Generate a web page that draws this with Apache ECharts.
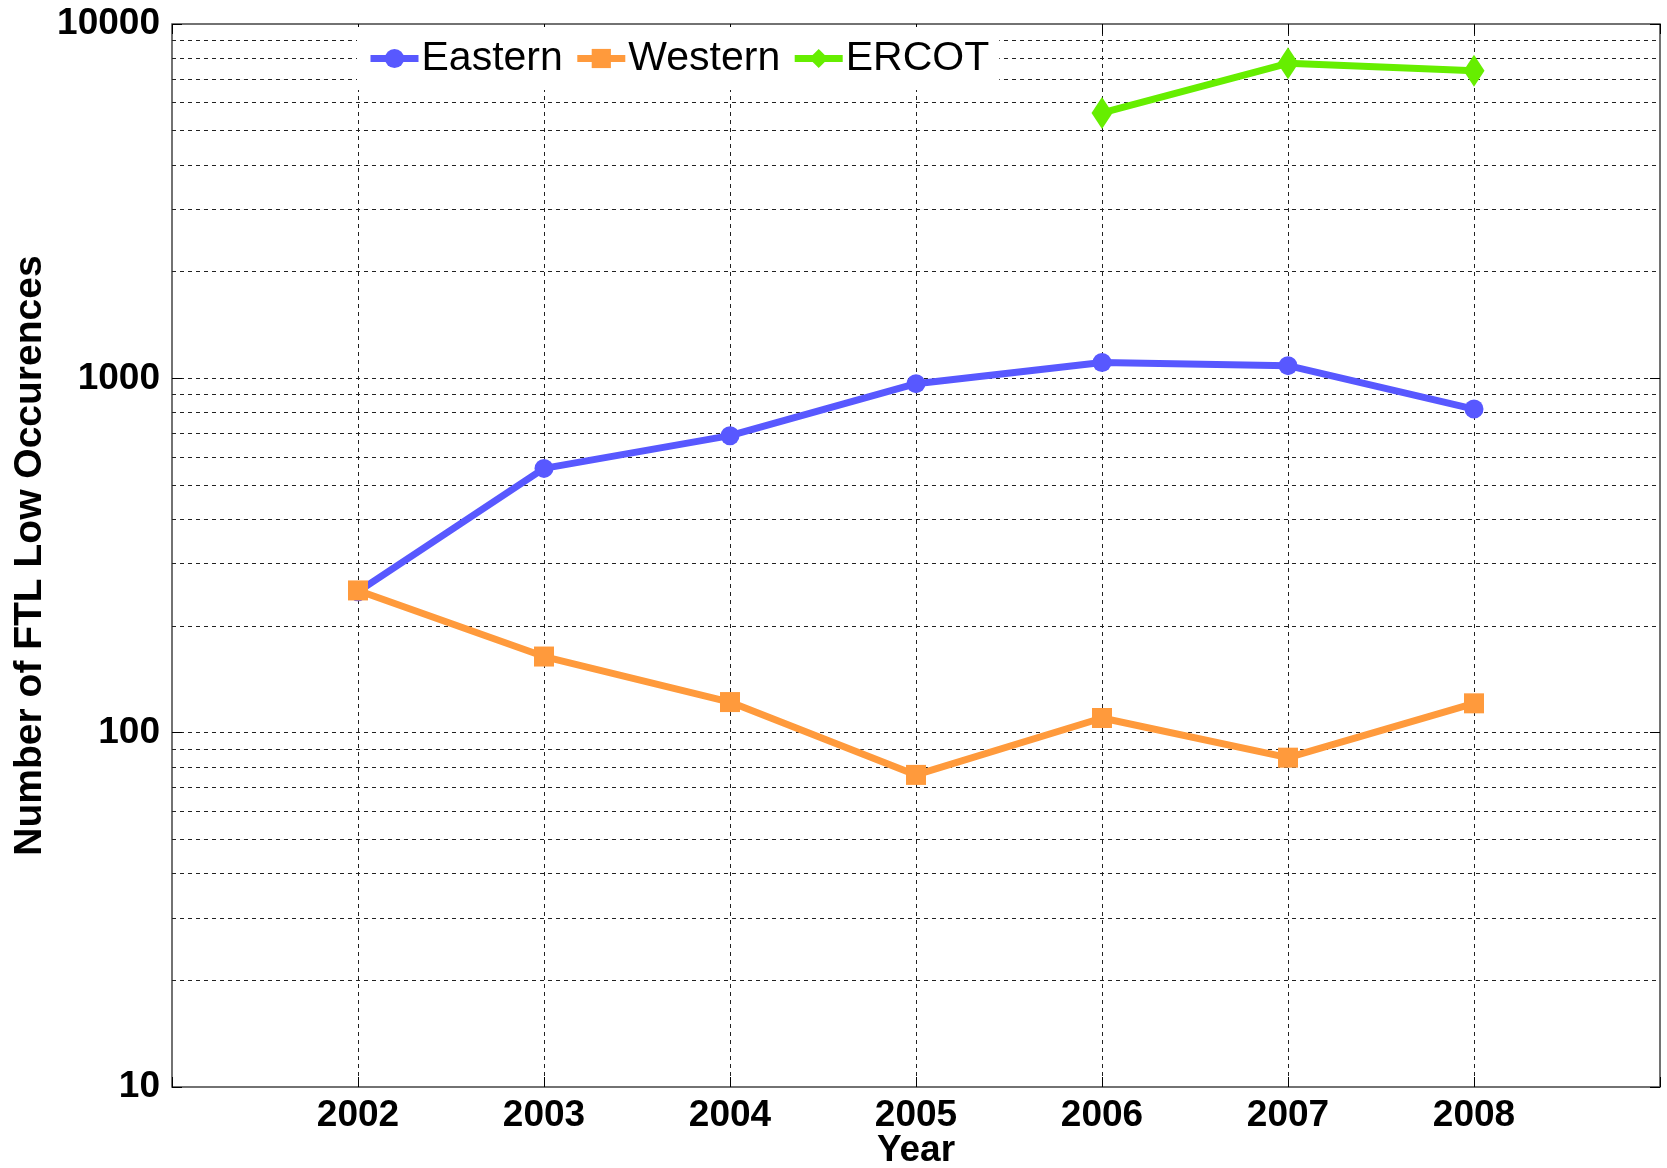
<!DOCTYPE html>
<html>
<head>
<meta charset="utf-8">
<script src="https://cdn.jsdelivr.net/npm/echarts@6/dist/echarts.min.js"></script>
<style>
  html, body { margin: 0; padding: 0; background: #fff; }
  #chart { width: 1667px; height: 1168px; }
</style>
</head>
<body>
<div id="chart"></div>
<script>
const years = [2002, 2003, 2004, 2005, 2006, 2007, 2008]
const eastern = [250, 557, 689, 966, 1109, 1086, 819]
const western = [252, 164, 122, 76, 110, 85, 121]
const ercot = [null, null, null, null, 5610, 7745, 7380]
// minor log grid lines, 2..9 of each decade
const minorTicks = [20, 30, 40, 50, 60, 70, 80, 90,
  200, 300, 400, 500, 600, 700, 800, 900,
  2000, 3000, 4000, 5000, 6000, 7000, 8000, 9000]

const font = 'Liberation Sans, Arial, sans-serif'
const gridDash = { color: '#222', width: 1, type: [4, 4] }

function pairs(values) {
  return years.map((y, i) => [y, values[i]])
}

const chart = echarts.init(document.getElementById('chart'))

const option = {
  animation: false,
  backgroundColor: '#fff',
  grid: {
    left: 172,
    right: 7,
    top: 24,
    bottom: 81,
    containLabel: false,
    outerBoundsMode: 'none',
    show: true,
    borderColor: '#444',
    borderWidth: 1.5,
    backgroundColor: '#fff'
  },
  legend: {
    data: ['Eastern', 'Western', 'ERCOT'],
    left: 357,
    top: 27,
    z: 10,
    padding: [11, 10, 11, 10],
    backgroundColor: '#fff',
    itemWidth: 48,
    itemHeight: 24,
    itemGap: 11,
    lineStyle: { width: 7 },
    textStyle: {
      fontFamily: font,
      fontSize: 41,
      color: '#000',
      padding: [0, 0, 0, -2]
    }
  },
  xAxis: [
    {
      type: 'value',
      min: 2001,
      max: 2009,
      interval: 1,
      name: 'Year',
      nameLocation: 'middle',
      nameGap: 45,
      nameMoveOverlap: false,
      nameTextStyle: { fontFamily: font, fontSize: 37, fontWeight: 'bold', color: '#000' },
      axisLine: { show: false },
      axisTick: { show: true, inside: true, length: 10, lineStyle: { color: '#000' } },
      axisLabel: {
        margin: 10,
        fontFamily: font,
        fontSize: 37,
        fontWeight: 'bold',
        color: '#000',
        formatter: v => (years.includes(v) ? String(v) : '')
      },
      splitLine: { show: true, showMinLine: false, showMaxLine: false, lineStyle: gridDash }
    },
    {
      type: 'value',
      position: 'top',
      min: 2001,
      max: 2009,
      interval: 1,
      axisLine: { show: false },
      axisTick: { show: true, inside: true, length: 10, lineStyle: { color: '#000' } },
      axisLabel: { show: false },
      splitLine: { show: false }
    }
  ],
  yAxis: [
    {
      type: 'log',
      logBase: 10,
      min: 10,
      max: 10000,
      name: 'Number of FTL Low Occurences',
      nameLocation: 'middle',
      nameGap: 122,
      nameMoveOverlap: false,
      nameTextStyle: { fontFamily: font, fontSize: 39, fontWeight: 'bold', color: '#000' },
      axisLine: { show: false },
      axisTick: { show: true, inside: true, length: 10, lineStyle: { color: '#000' } },
      axisLabel: {
        margin: 12,
        fontFamily: font,
        fontSize: 37,
        fontWeight: 'bold',
        color: '#000',
        formatter: v => String(Math.round(v))
      },
      splitLine: { show: true, showMinLine: false, showMaxLine: false, lineStyle: gridDash }
    },
    {
      type: 'log',
      logBase: 10,
      min: 10,
      max: 10000,
      position: 'right',
      axisLine: { show: false },
      axisTick: { show: true, inside: true, length: 10, lineStyle: { color: '#000' } },
      axisLabel: { show: false },
      splitLine: { show: false }
    }
  ],
  series: [
    {
      name: 'minor',
      type: 'line',
      data: [],
      silent: true,
      z: 1,
      markLine: {
        silent: true,
        z: 1,
        symbol: 'none',
        label: { show: false },
        lineStyle: gridDash,
        data: minorTicks.map(v => ({ yAxis: v }))
      }
    },
    {
      name: 'Eastern',
      type: 'line',
      data: pairs(eastern),
      symbol: 'circle',
      symbolSize: 19,
      lineStyle: { width: 7, color: '#5858ff' },
      itemStyle: { color: '#5858ff' },
      z: 3
    },
    {
      name: 'Western',
      type: 'line',
      data: pairs(western),
      symbol: 'rect',
      symbolSize: 20,
      lineStyle: { width: 7, color: '#ff9a3c' },
      itemStyle: { color: '#ff9a3c' },
      z: 4
    },
    {
      name: 'ERCOT',
      type: 'line',
      data: pairs(ercot),
      symbol: 'diamond',
      symbolSize: [21, 32],
      lineStyle: { width: 7, color: '#66ee00' },
      itemStyle: { color: '#66ee00' },
      z: 5
    }
  ]
}

chart.setOption(option)
</script>
</body>
</html>
